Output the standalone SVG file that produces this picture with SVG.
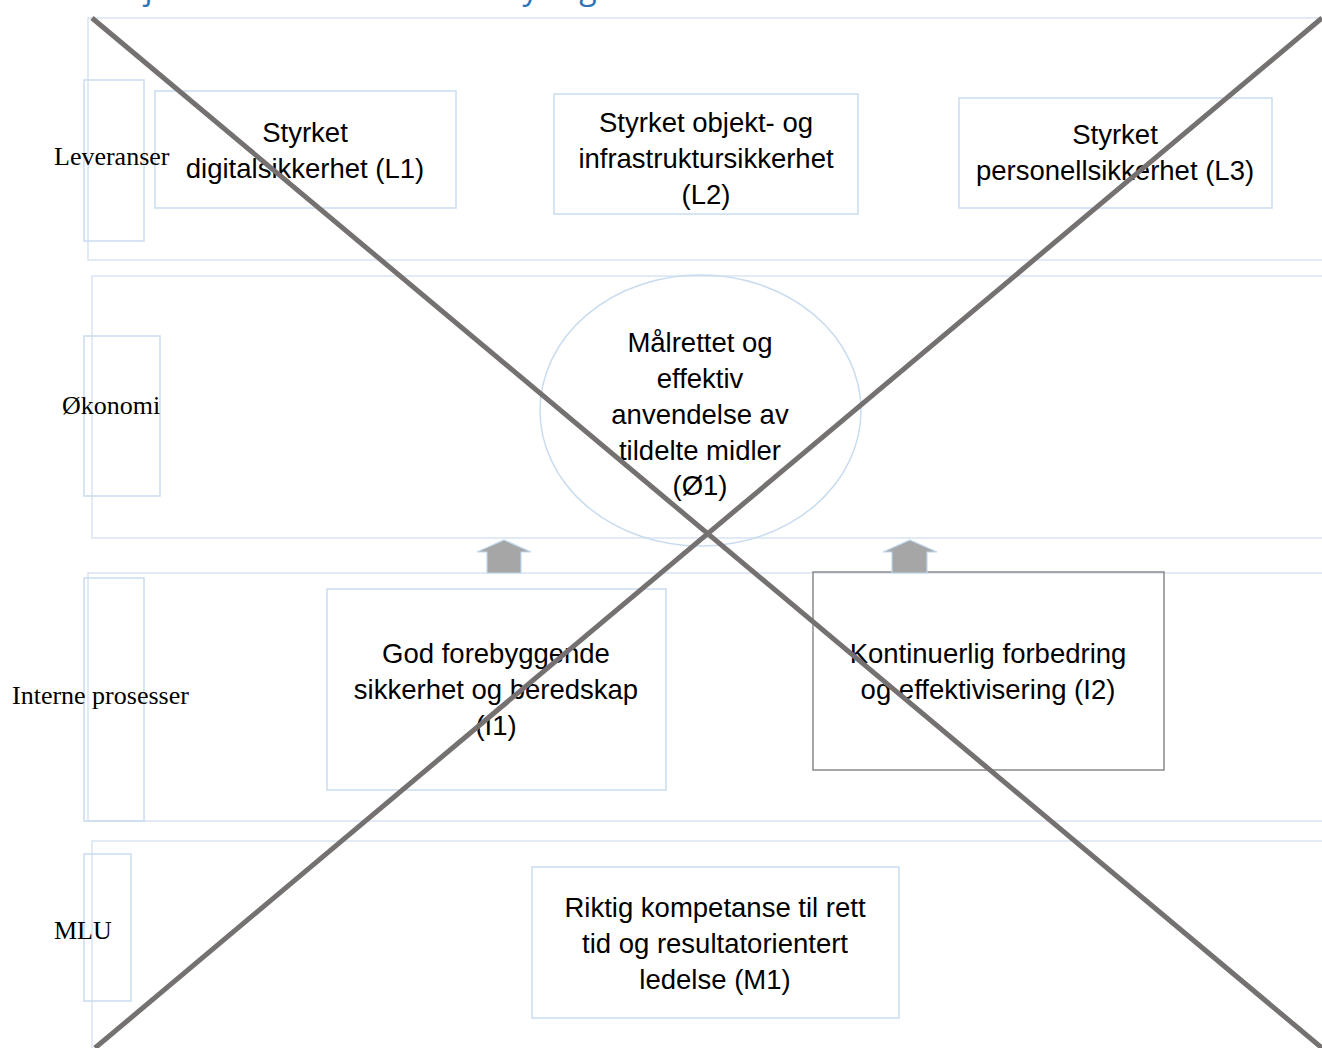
<svg xmlns="http://www.w3.org/2000/svg" width="1322" height="1048" viewBox="0 0 1322 1048">
<style>
.band{fill:none;stroke:#d9e5f2;stroke-width:1.5}
.lab{fill:none;stroke:#c9dcef;stroke-width:1.5}
.box{fill:none;stroke:#c9dcef;stroke-width:1.5}
.gbox{fill:none;stroke:#8a8a8a;stroke-width:1.5}
.row{font-family:"Liberation Serif",serif;font-size:26px;fill:#000}
.t{font-family:"Liberation Sans",Arial,sans-serif;font-size:27.5px;fill:#000;text-anchor:middle}
.arr{fill:#a6a6a6;stroke:#bdd7ee;stroke-width:1.2}
.x{stroke:#767171;stroke-width:5;fill:none}
</style>
<rect width="1322" height="1048" fill="#fff"/>
<text x="100" y="-1" style="font-family:'Open Sans',sans-serif;font-size:32px;fill:#2e74b5">Objektiver for virksomhetsstyring</text>
<g id="bands">
<rect class="band" x="88" y="18" width="1250" height="242"/>
<rect class="band" x="92" y="276" width="1250" height="262"/>
<rect class="band" x="88" y="573" width="1250" height="248"/>
<rect class="band" x="92" y="841" width="1250" height="220"/>
</g>
<g id="L1"><rect class="box" x="155" y="91" width="301" height="117"/><text class="t" x="305" y="142">Styrket</text><text class="t" x="305" y="178">digitalsikkerhet (L1)</text></g>
<g id="L2"><rect class="box" x="554" y="94" width="304" height="120"/><text class="t" x="706" y="132">Styrket objekt- og</text><text class="t" x="706" y="168">infrastruktursikkerhet</text><text class="t" x="706" y="204">(L2)</text></g>
<g id="L3"><rect class="box" x="959" y="98" width="313" height="110"/><text class="t" x="1115" y="144">Styrket</text><text class="t" x="1115" y="180">personellsikkerhet (L3)</text></g>
<g id="O1"><ellipse cx="700.5" cy="410.5" rx="160.5" ry="135.5" fill="none" stroke="#c9dcef" stroke-width="1.5"/><text class="t" x="700" y="352">Målrettet og</text><text class="t" x="700" y="388">effektiv</text><text class="t" x="700" y="424">anvendelse av</text><text class="t" x="700" y="460">tildelte midler</text><text class="t" x="700" y="495">(Ø1)</text></g>
<g id="I1"><rect class="box" x="327" y="589" width="339" height="201"/><text class="t" x="496" y="663">God forebyggende</text><text class="t" x="496" y="699">sikkerhet og beredskap</text><text class="t" x="496" y="735">(I1)</text></g>
<g id="I2"><rect class="gbox" x="813" y="572" width="351" height="198"/><text class="t" x="988" y="663">Kontinuerlig forbedring</text><text class="t" x="988" y="699">og effektivisering (I2)</text></g>
<g id="M1"><rect class="box" x="532" y="867" width="367" height="151"/><text class="t" x="715" y="917">Riktig kompetanse til rett</text><text class="t" x="715" y="953">tid og resultatorientert</text><text class="t" x="715" y="989">ledelse (M1)</text></g>
<g id="row-leveranser"><rect class="lab" x="84" y="80" width="60" height="161"/><text class="row" x="54" y="165">Leveranser</text></g>
<g id="row-okonomi"><rect class="lab" x="84" y="336" width="76" height="160"/><text class="row" x="62" y="414">Økonomi</text></g>
<g id="row-interne"><rect class="lab" x="84" y="578" width="60" height="243"/><text class="row" x="12" y="704">Interne prosesser</text></g>
<g id="row-mlu"><rect class="lab" x="84" y="854" width="47" height="147"/><text class="row" x="54" y="939">MLU</text></g>
<g id="connectors">
<path class="arr" d="M504 540 L531 552 L521 552 L521 573 L487 573 L487 552 L477 552 Z"/>
<path class="arr" d="M910 540 L937 552 L927 552 L927 573 L892 573 L892 552 L883 552 Z"/>
<line class="x" x1="92" y1="18" x2="1322" y2="1048"/>
<line class="x" x1="1322" y1="18" x2="95" y2="1048"/>
</g>
</svg>
